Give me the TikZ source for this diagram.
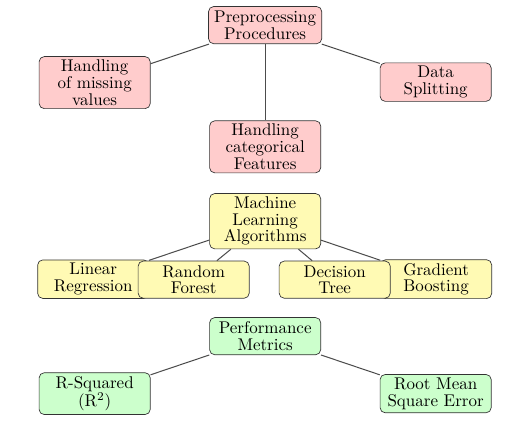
\documentclass[tikz,border=0pt]{standalone}
\definecolor{prepink}{RGB}{255, 204, 204}
\definecolor{algyellow}{RGB}{255, 250, 180}
\definecolor{metgreen}{RGB}{204, 255, 204}
\usepackage{tikz}
\usetikzlibrary{positioning}

\begin{document}
\begin{tikzpicture}[
  box/.style={draw=black!80, rounded corners=3pt, minimum width=2.3cm,
              minimum height=0.77cm, inner ysep=2pt, align=center,
              font=\fontsize{10}{9.8}\selectfont},
  link/.style={draw=black!70, semithick}
]
  \useasboundingbox (-5.49,0.52) rectangle (5.38,-8.30);
  % preprocessing
  \node[box, fill=prepink] (pre) at (0,0) {Preprocessing\\Procedures};
  \node[box, fill=prepink] (miss) at (-3.53,-1.19) {Handling\\of missing\\values};
  \node[box, fill=prepink] (split) at (3.53,-1.18) {Data\\Splitting};
  \node[box, fill=prepink] (cat) at (0,-2.52) {Handling\\categorical\\Features};
  \draw[link] (pre) -- (miss);
  \draw[link] (pre) -- (split);
  \draw[link] (pre) -- (cat);
  % algorithms
  \node[box, fill=algyellow] (ml) at (0,-4.06) {Machine\\Learning\\Algorithms};
  \node[box, fill=algyellow] (lin) at (-3.56,-5.26) {Linear\\Regression};
  \node[box, fill=algyellow] (rf) at (-1.48,-5.27) {Random\\Forest};
  \node[box, fill=algyellow] (gb) at (3.54,-5.26) {Gradient\\Boosting};
  \node[box, fill=algyellow] (dt) at (1.44,-5.27) {Decision\\Tree};
  \draw[link] (ml) -- (lin);
  \draw[link] (ml) -- (rf);
  \draw[link] (ml) -- (dt);
  \draw[link] (ml) -- (gb);
  % metrics
  \node[box, fill=metgreen] (perf) at (0,-6.44) {Performance\\Metrics};
  \node[box, fill=metgreen] (rsq) at (-3.53,-7.63) {R-Squared\\(R$^2$)};
  \node[box, fill=metgreen] (rmse) at (3.53,-7.63) {Root Mean\\Square Error};
  \draw[link] (perf) -- (rsq);
  \draw[link] (perf) -- (rmse);
\end{tikzpicture}
\end{document}
